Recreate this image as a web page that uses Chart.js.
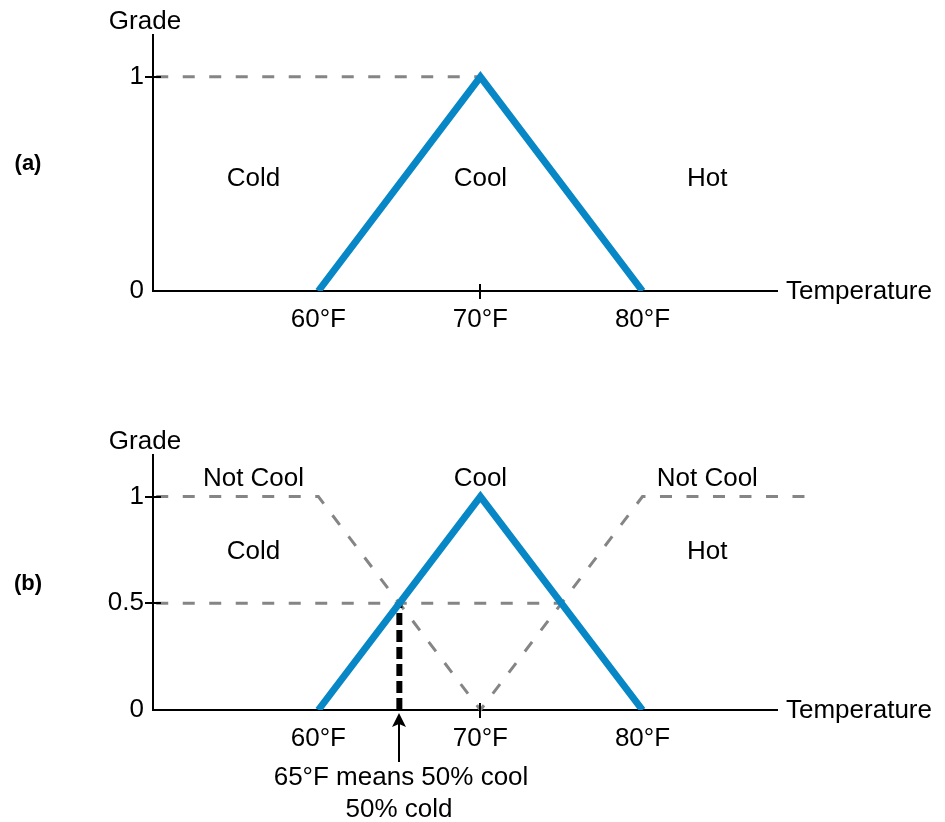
<!DOCTYPE html>
<html>
<head>
<meta charset="utf-8">
<script src="https://cdn.jsdelivr.net/npm/chart.js@4/dist/chart.umd.min.js"></script>
<style>
  html, body { margin: 0; padding: 0; background: #fff; }
  canvas { position: absolute; left: 0; }
  #chartA { top: 0; }
  #chartB { top: 411px; }
</style>
</head>
<body>
<canvas id="chartA" width="945" height="411"></canvas>
<canvas id="chartB" width="945" height="411"></canvas>
<script>
// temperature axis (deg F) and grade axis
const tempTicks = [60, 70, 80];
const gradeTicksA = [0, 1];
const gradeTicksB = [0, 0.5, 1];

// "Cool" membership triangle
const coolTemps = [60, 70, 80];
const coolGrade = [0, 1, 0];

// guide from the grade 1 tick to the peak (panel a)
const peakGuideTemps = [50, 70];
const peakGuideGrade = [1, 1];

// "Not Cool" complement (panel b)
const notCoolTemps = [50, 60, 70, 80, 90];
const notCoolGrade = [1, 1, 0, 1, 1];

// 0.5 guide and the 65F marker (panel b)
const halfGuideTemps = [50, 75];
const halfGuideGrade = [0.5, 0.5];
const markTemps = [65, 65];
const markGrade = [0, 0.5];

const FONT = '"Liberation Sans", Arial, Helvetica, sans-serif';
const BLUE = '#0787c5';
const GREY = '#858585';

function pts(xs, ys) {
  return xs.map((x, i) => ({ x: x, y: ys[i] }));
}

const sketchLabels = {
  id: 'sketchLabels',
  afterDatasetsDraw(chart, args, opts) {
    const ctx = chart.ctx;
    const xs = chart.scales.x, ys = chart.scales.y;
    const area = chart.chartArea;
    ctx.save();
    ctx.fillStyle = '#000';
    ctx.strokeStyle = '#000';
    ctx.lineWidth = 2;

    const seg = (x1, y1, x2, y2) => {
      ctx.beginPath(); ctx.moveTo(x1, y1); ctx.lineTo(x2, y2); ctx.stroke();
    };
    opts.crossY.forEach(v => {
      const py = Math.round(ys.getPixelForValue(v));
      seg(area.left - 8, py, area.left + 8, py);
    });
    opts.crossX.forEach(v => {
      const px = Math.round(xs.getPixelForValue(v));
      seg(px, area.bottom - 7, px, area.bottom + 8);
    });

    ctx.font = '26px ' + FONT;
    ctx.textBaseline = 'middle';
    ctx.textAlign = 'center';
    ctx.fillText('Grade', area.left - 8, area.top - 13);
    ctx.textAlign = 'left';
    ctx.fillText('Temperature', area.right + 9, area.bottom + 1);

    ctx.textAlign = 'center';
    opts.notes.forEach(n => {
      ctx.fillText(n.text, xs.getPixelForValue(n.x), ys.getPixelForValue(n.y));
    });

    ctx.font = 'bold 22px ' + FONT;
    ctx.fillText(opts.panel, 28, ys.getPixelForValue(0.593));

    if (opts.arrowAt != null) {
      const ax = Math.round(xs.getPixelForValue(opts.arrowAt));
      const tip = area.bottom + 3;
      seg(ax, tip + 8, ax, area.bottom + 52);
      ctx.beginPath();
      ctx.moveTo(ax, tip);
      ctx.lineTo(ax - 7, tip + 14);
      ctx.lineTo(ax, tip + 11);
      ctx.lineTo(ax + 7, tip + 14);
      ctx.closePath();
      ctx.fill();
      ctx.font = '26px ' + FONT;
      ctx.fillText('65\u00B0F means 50% cool', ax + 2, area.bottom + 68);
      ctx.fillText('50% cold', ax, area.bottom + 100);
    }
    ctx.restore();
  }
};

function makeChart(id, cfg) {
  return new Chart(document.getElementById(id), {
    type: 'line',
    data: { datasets: cfg.datasets },
    options: {
      responsive: false,
      animation: false,
      layout: { padding: { top: cfg.top, right: 945 - 777, left: 0, bottom: 0 } },
      elements: { point: { radius: 0 }, line: { tension: 0 } },
      scales: {
        x: {
          type: 'linear', min: 49.8, max: 88.3,
          afterFit: s => { s.height = 411 - cfg.bottom; },
          afterBuildTicks: s => { s.ticks = tempTicks.map(v => ({ value: v })); },
          grid: { drawOnChartArea: false, drawTicks: false },
          border: { display: true, color: '#000', width: 2 },
          ticks: {
            color: '#000', padding: 13, maxRotation: 0,
            font: { family: FONT, size: 26 },
            callback: v => v + '\u00B0F'
          }
        },
        y: {
          type: 'linear', min: 0, max: 1.195,
          afterFit: s => { s.width = 153; },
          afterBuildTicks: s => { s.ticks = cfg.yTicks.map(v => ({ value: v })); },
          grid: { drawOnChartArea: false, drawTicks: false },
          border: { display: true, color: '#000', width: 2 },
          ticks: {
            color: '#000', padding: 9,
            font: { family: FONT, size: 26 },
            callback: v => String(v)
          }
        }
      },
      plugins: {
        legend: { display: false },
        tooltip: { enabled: false },
        sketchLabels: cfg.labels
      }
    },
    plugins: [sketchLabels]
  });
}

const coolSet = {
  data: pts(coolTemps, coolGrade),
  borderColor: BLUE, borderWidth: 7,
  clip: { left: 10, top: 20, right: 200, bottom: 0 }
};

makeChart('chartA', {
  top: 35, bottom: 291, yTicks: gradeTicksA,
  datasets: [
    coolSet,
    { data: pts(peakGuideTemps, peakGuideGrade), borderColor: GREY, borderWidth: 3, borderDash: [12, 14.5], clip: false }
  ],
  labels: {
    crossY: [1], crossX: [70], panel: '(a)', arrowAt: null,
    notes: [
      { text: 'Cold', x: 56, y: 0.525 },
      { text: 'Cool', x: 70, y: 0.525 },
      { text: 'Hot', x: 84, y: 0.525 }
    ]
  }
});

makeChart('chartB', {
  top: 44, bottom: 299, yTicks: gradeTicksB,
  datasets: [
    Object.assign({}, coolSet, { data: pts(coolTemps, coolGrade) }),
    { data: pts(markTemps, markGrade), borderColor: '#000', borderWidth: 6, borderDash: [12, 5], clip: false },
    { data: pts(halfGuideTemps, halfGuideGrade), borderColor: GREY, borderWidth: 3, borderDash: [12, 14.5], clip: false },
    { data: pts(notCoolTemps, notCoolGrade), borderColor: GREY, borderWidth: 3, borderDash: [12, 14.5], clip: false }
  ],
  labels: {
    crossY: [0.5, 1], crossX: [70], panel: '(b)', arrowAt: 65,
    notes: [
      { text: 'Not Cool', x: 56, y: 1.082 },
      { text: 'Cool', x: 70, y: 1.082 },
      { text: 'Not Cool', x: 84, y: 1.082 },
      { text: 'Cold', x: 56, y: 0.742 },
      { text: 'Hot', x: 84, y: 0.742 }
    ]
  }
});
</script>
</body>
</html>
